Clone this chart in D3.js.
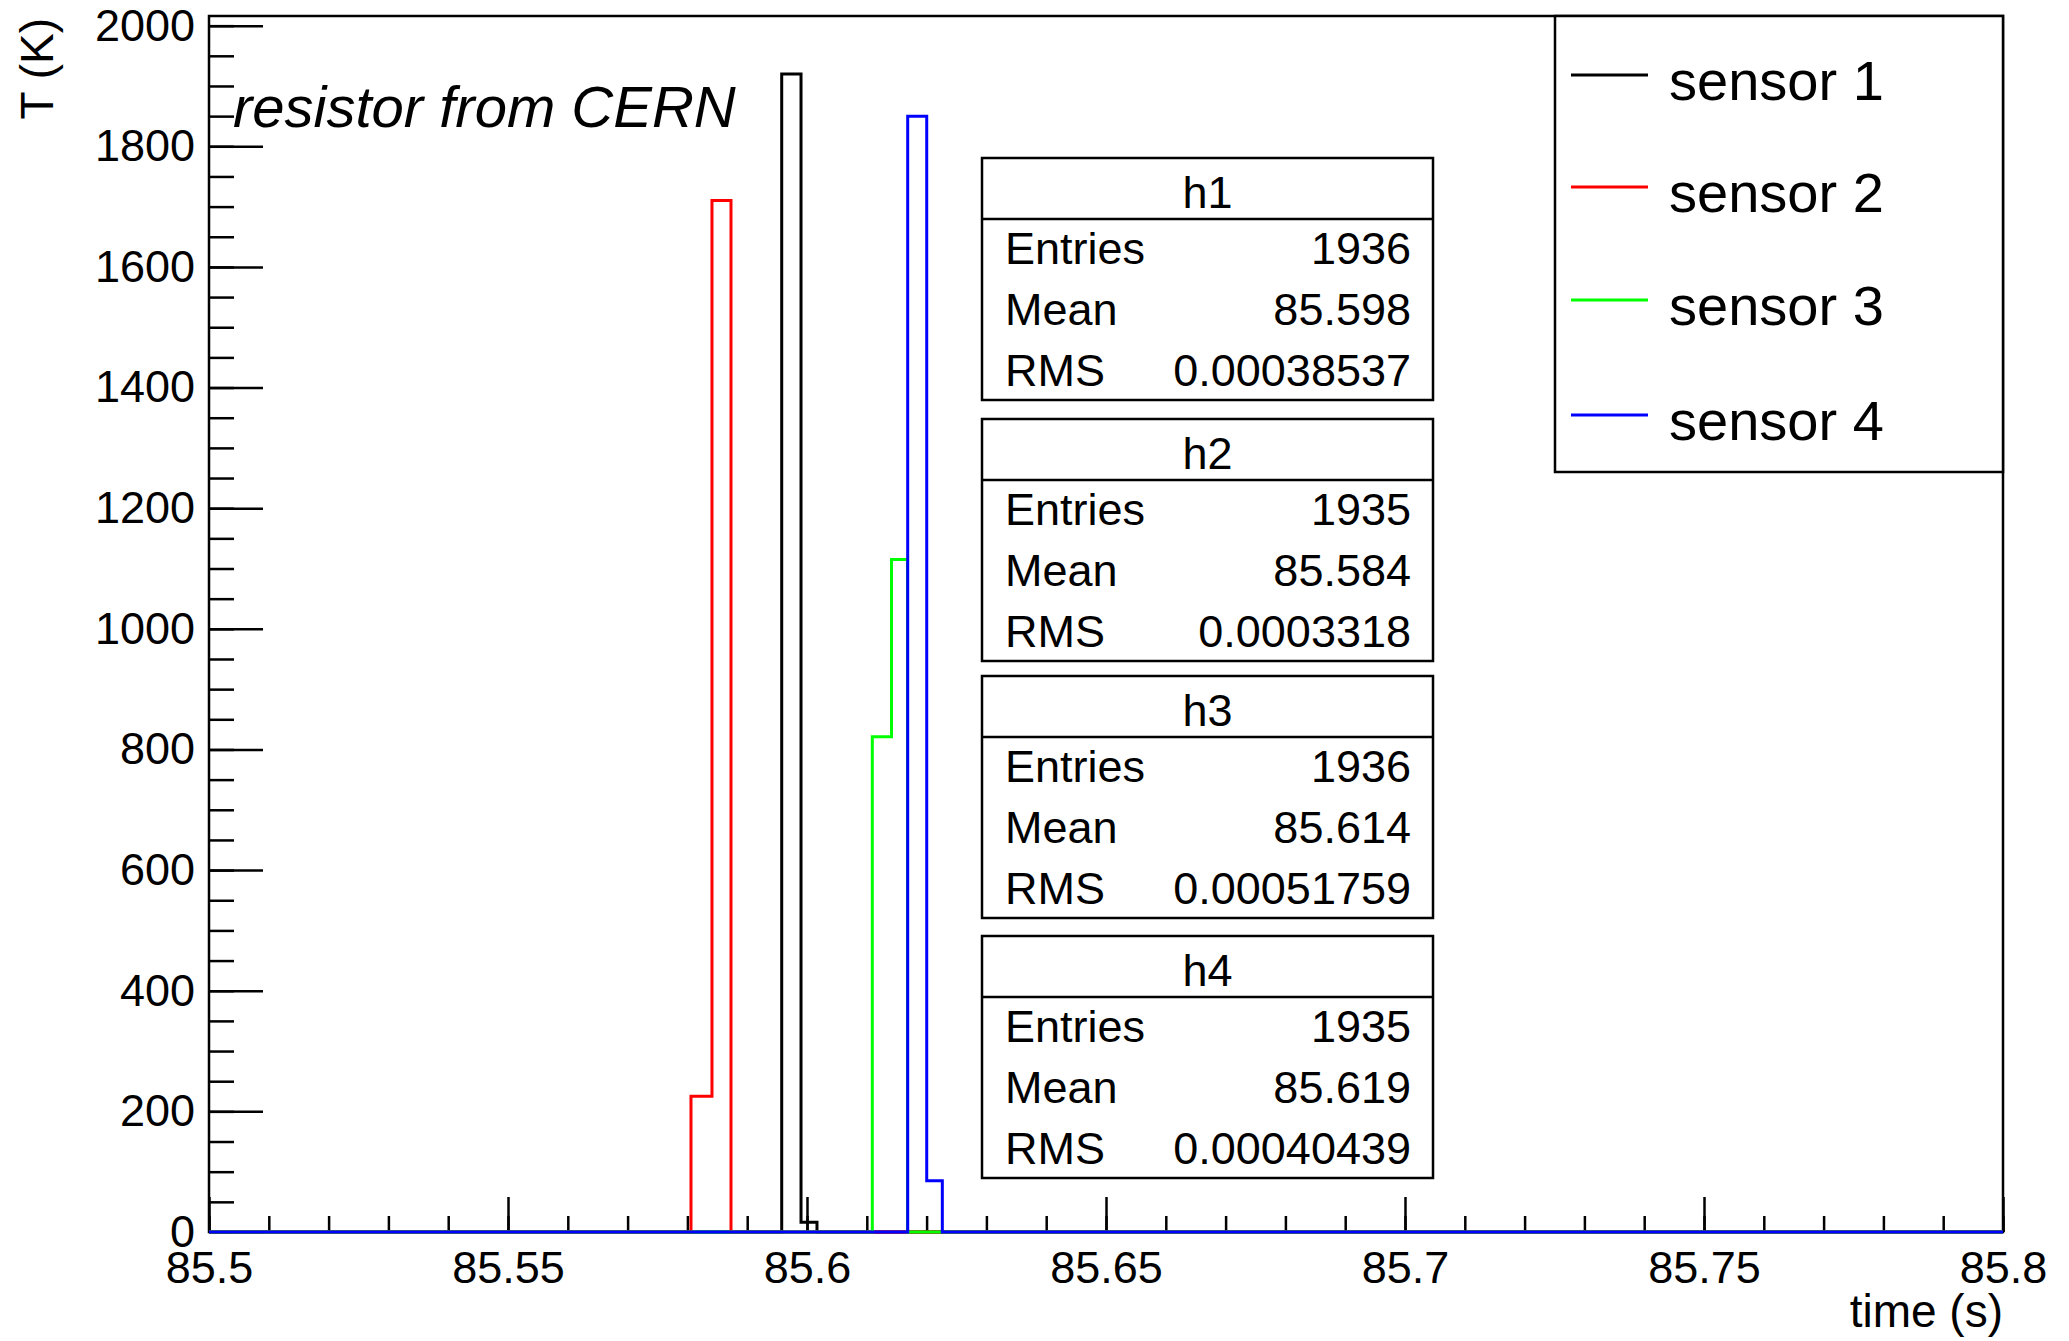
<!DOCTYPE html>
<html>
<head>
<meta charset="utf-8">
<script src="https://cdn.jsdelivr.net/npm/d3@7"></script>
<style>
  body { margin: 0; background: #fff; }
  text { font-family: "Liberation Sans", Arial, sans-serif; fill: #000; }
</style>
</head>
<body>
<div id="chart"></div>
<script>
// axis ranges and ticks
var xRange = [85.5, 85.8];
var yRange = [0, 2016];
var xTicks = [85.5, 85.55, 85.6, 85.65, 85.7, 85.75, 85.8];
var xTickLabels = ['85.5', '85.55', '85.6', '85.65', '85.7', '85.75', '85.8'];
var yTicks = [0, 200, 400, 600, 800, 1000, 1200, 1400, 1600, 1800, 2000];

// histogram bins (edges in s, contents)
var names = ['sensor 1', 'sensor 2', 'sensor 3', 'sensor 4'];
var colors = ['#000000', '#ff0000', '#00ff00', '#0000ff'];
var edges1 = [85.59577, 85.59900, 85.60167];
var counts1 = [1920, 16];
var edges2 = [85.58060, 85.58411, 85.58729];
var counts2 = [225, 1710];
var edges3 = [85.61092, 85.61413, 85.61681];
var counts3 = [821, 1115];
var edges4 = [85.61684, 85.62002, 85.62263];
var counts4 = [1850, 85];

// stats boxes
var statNames = ['h1', 'h2', 'h3', 'h4'];
var statEntries = ['1936', '1935', '1936', '1935'];
var statMeans = ['85.598', '85.584', '85.614', '85.619'];
var statRms = ['0.00038537', '0.0003318', '0.00051759', '0.00040439'];

var titleText = 'resistor from CERN';

/*-------------------------------------------------------*/
function main(){
    var W = 2069, H = 1341;
    var frame = { left: 209, right: 2003, top: 16, bottom: 1232 };

    var svg = d3.select('#chart').append('svg')
                .attr('width', W)
                .attr('height', H);
    svg.append('rect').attr('width', W).attr('height', H).attr('fill', '#fff');

    var x = d3.scaleLinear().domain(xRange).range([frame.left, frame.right]);
    var y = d3.scaleLinear().domain(yRange).range([frame.bottom, frame.top]);

    // frame
    svg.append('rect')
       .attr('x', frame.left).attr('y', frame.top)
       .attr('width', frame.right - frame.left)
       .attr('height', frame.bottom - frame.top)
       .attr('fill', 'none').attr('stroke', '#000').attr('stroke-width', 2.5);

    // x axis: minor then major ticks
    var xMinor = d3.range(0, 31).map(function(i){ return 85.5 + i * 0.01; });
    svg.append('g')
       .attr('transform', 'translate(0,' + frame.bottom + ')')
       .call(d3.axisBottom(x).tickValues(xMinor).tickSizeInner(-16).tickSizeOuter(0).tickFormat(''))
       .call(function(g){ g.select('.domain').remove(); });
    svg.append('g')
       .attr('transform', 'translate(0,' + frame.bottom + ')')
       .call(d3.axisBottom(x).tickValues(xTicks).tickSizeInner(-35).tickSizeOuter(0).tickPadding(19)
               .tickFormat(function(d, i){ return xTickLabels[i]; }))
       .call(function(g){ g.select('.domain').remove(); });

    // y axis
    var yMinor = d3.range(0, 41).map(function(i){ return i * 50; });
    svg.append('g')
       .attr('transform', 'translate(' + frame.left + ',0)')
       .call(d3.axisLeft(y).tickValues(yMinor).tickSizeInner(-25).tickSizeOuter(0).tickFormat(''))
       .call(function(g){ g.select('.domain').remove(); });
    svg.append('g')
       .attr('transform', 'translate(' + frame.left + ',0)')
       .call(d3.axisLeft(y).tickValues(yTicks).tickSizeInner(-54).tickSizeOuter(0).tickPadding(14)
               .tickFormat(d3.format('d')))
       .call(function(g){ g.select('.domain').remove(); });

    svg.selectAll('.tick line').attr('stroke', '#000').attr('stroke-width', 2.5);
    svg.selectAll('.tick text')
       .attr('font-family', '"Liberation Sans", Arial, sans-serif')
       .attr('font-size', 45).attr('fill', '#000');

    // axis titles
    svg.append('text')
       .attr('x', frame.right).attr('y', 1327)
       .attr('text-anchor', 'end').attr('font-size', 46)
       .text('time (s)');
    svg.append('text')
       .attr('transform', 'translate(53,' + (frame.top + 2) + ') rotate(-90)')
       .attr('text-anchor', 'end').attr('font-size', 46)
       .text('T (K)');

    // histograms as step outlines
    var allEdges = [edges1, edges2, edges3, edges4];
    var allCounts = [counts1, counts2, counts3, counts4];
    var line = d3.line()
                 .x(function(d){ return x(d[0]); })
                 .y(function(d){ return y(d[1]); });
    allEdges.forEach(function(e, k){
        var c = allCounts[k];
        var pts = [[xRange[0], 0], [e[0], 0]];
        for(var i = 0; i < c.length; i++){
            pts.push([e[i], c[i]]);
            pts.push([e[i + 1], c[i]]);
        }
        pts.push([e[e.length - 1], 0]);
        pts.push([xRange[1], 0]);
        svg.append('path')
           .attr('d', line(pts))
           .attr('fill', 'none')
           .attr('stroke', colors[k])
           .attr('stroke-width', 3);
    });

    // title
    svg.append('text')
       .attr('x', 233).attr('y', 127)
       .attr('font-size', 58).attr('font-style', 'italic')
       .text(titleText);

    // stats boxes
    var boxTops = [158, 419, 676, 936];
    var bx0 = 982, bx1 = 1433, bh = 242;
    statNames.forEach(function(n, i){
        var t = boxTops[i];
        var g = svg.append('g');
        g.append('rect')
         .attr('x', bx0).attr('y', t).attr('width', bx1 - bx0).attr('height', bh)
         .attr('fill', '#fff').attr('stroke', '#000').attr('stroke-width', 2.5);
        g.append('line')
         .attr('x1', bx0).attr('x2', bx1).attr('y1', t + 61).attr('y2', t + 61)
         .attr('stroke', '#000').attr('stroke-width', 2.5);
        g.append('text')
         .attr('x', (bx0 + bx1) / 2).attr('y', t + 50)
         .attr('text-anchor', 'middle').attr('font-size', 45)
         .text(n);
        var rows = [['Entries', statEntries[i]], ['Mean', statMeans[i]], ['RMS', statRms[i]]];
        rows.forEach(function(r, j){
            var by = t + 106 + j * 61;
            g.append('text').attr('x', bx0 + 23).attr('y', by)
             .attr('font-size', 45).text(r[0]);
            g.append('text').attr('x', bx1 - 22).attr('y', by)
             .attr('text-anchor', 'end').attr('font-size', 45).text(r[1]);
        });
    });

    // legend
    var lg = svg.append('g');
    lg.append('rect')
      .attr('x', 1555).attr('y', frame.top).attr('width', frame.right - 1555).attr('height', 472 - frame.top)
      .attr('fill', '#fff').attr('stroke', '#000').attr('stroke-width', 2.5);
    var legY = [75, 187, 300, 415];
    names.forEach(function(n, i){
        lg.append('line')
          .attr('x1', 1571).attr('x2', 1648).attr('y1', legY[i]).attr('y2', legY[i])
          .attr('stroke', colors[i]).attr('stroke-width', 3);
        lg.append('text')
          .attr('x', 1669).attr('y', legY[i] + 25)
          .attr('font-size', 56).text(n);
    });
}

main();
</script>
</body>
</html>
